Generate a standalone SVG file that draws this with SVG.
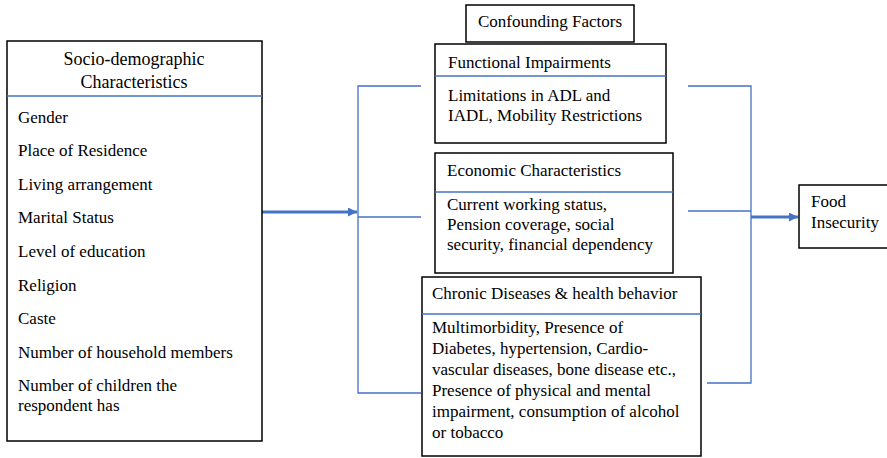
<svg xmlns="http://www.w3.org/2000/svg" width="887" height="458" viewBox="0 0 887 458">
<style>
.box{fill:#fff;stroke:#000;stroke-width:1.5}
.div{stroke:#4472C4;stroke-width:1.3;fill:none}
.t{font-family:"Liberation Serif","Times New Roman",serif;font-size:17px;fill:#000}
.th{font-size:18px}
.c{stroke:#4472C4;stroke-width:1.3;fill:none}
.ca{stroke:#4472C4;stroke-width:2.8;fill:none}
</style>
<defs>
<marker id="ah" markerUnits="userSpaceOnUse" markerWidth="10" markerHeight="10" refX="9" refY="4.5" orient="auto">
<path d="M0,0 L9,4.5 L0,9 Z" fill="#4472C4"/>
</marker>
</defs>
<g id="connectors">
<path class="c" d="M421,86 H358 V393 H421"/>
<path class="c" d="M358,217 H421"/>
<path class="c" d="M688,86 H751 V383 H707"/>
<path class="c" d="M688,211 H751"/>
<path class="ca" d="M262,212 H357" marker-end="url(#ah)"/>
<path class="ca" d="M751,217 H798" marker-end="url(#ah)"/>
</g>
<g id="socio">
<rect class="box" x="7" y="41" width="255" height="400"/>
<line class="div" x1="7" y1="96" x2="262" y2="96"/>
<text class="t th" x="134" y="65" text-anchor="middle">Socio-demographic</text>
<text class="t th" x="134" y="88" text-anchor="middle">Characteristics</text>
<text class="t" x="18" y="122.5">Gender</text>
<text class="t" x="18" y="156">Place of Residence</text>
<text class="t" x="18" y="189.7">Living arrangement</text>
<text class="t" x="18" y="223.3">Marital Status</text>
<text class="t" x="18" y="256.9">Level of education</text>
<text class="t" x="18" y="290.5">Religion</text>
<text class="t" x="18" y="324.1">Caste</text>
<text class="t" x="18" y="357.7">Number of household members</text>
<text class="t" x="18" y="391.3">Number of children the</text>
<text class="t" x="18" y="410.5">respondent has</text>
</g>
<g id="confounding">
<rect class="box" x="466" y="5" width="168" height="37"/>
<text class="t" x="550" y="27" text-anchor="middle">Confounding Factors</text>
</g>
<g id="functional">
<rect class="box" x="435" y="44" width="231" height="99"/>
<line class="div" x1="435" y1="76" x2="666" y2="76"/>
<text class="t" x="448" y="67.5">Functional Impairments</text>
<text class="t" x="448" y="101">Limitations in ADL and</text>
<text class="t" x="448" y="121">IADL, Mobility Restrictions</text>
</g>
<g id="economic">
<rect class="box" x="435" y="153" width="238" height="120"/>
<line class="div" x1="435" y1="192" x2="673" y2="192"/>
<text class="t" x="447" y="175.5">Economic Characteristics</text>
<text class="t" x="447" y="210">Current working status,</text>
<text class="t" x="447" y="230">Pension coverage, social</text>
<text class="t" x="447" y="250">security, financial dependency</text>
</g>
<g id="chronic">
<rect class="box" x="422" y="277" width="279" height="179"/>
<line class="div" x1="422" y1="314" x2="701" y2="314"/>
<text class="t" x="432" y="298.5">Chronic Diseases &amp; health behavior</text>
<text class="t" x="432" y="333">Multimorbidity, Presence of</text>
<text class="t" x="432" y="354">Diabetes, hypertension, Cardio-</text>
<text class="t" x="432" y="375">vascular diseases, bone disease etc.,</text>
<text class="t" x="432" y="396">Presence of physical and mental</text>
<text class="t" x="432" y="417">impairment, consumption of alcohol</text>
<text class="t" x="432" y="437.5">or tobacco</text>
</g>
<g id="food">
<rect class="box" x="799" y="185" width="90" height="63"/>
<text class="t" x="811" y="207">Food</text>
<text class="t" x="811" y="228">Insecurity</text>
</g>
</svg>
